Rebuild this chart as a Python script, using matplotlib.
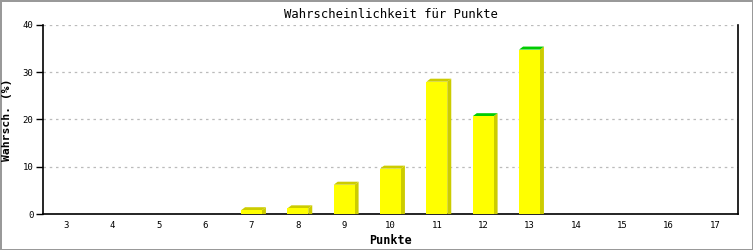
import numpy as np
import matplotlib
matplotlib.use("Agg")
import matplotlib.pyplot as plt
from matplotlib.patches import Polygon

# data
punkte = [3, 4, 5, 6, 7, 8, 9, 10, 11, 12, 13, 14, 15, 16, 17]
wahrsch = [0, 0, 0, 0, 0.8, 1.2, 6.2, 9.6, 28.0, 20.7, 34.8, 0, 0, 0, 0]
top_green = [12, 13]
y_ticks = [0, 10, 20, 30, 40]

W, H = 753, 250
fig = plt.figure(figsize=(W / 100, H / 100), dpi=100)
fig.patch.set_facecolor("white")
fig.patch.set_edgecolor("#999999")
fig.patch.set_linewidth(2)

ax = fig.add_axes([43 / W, 1 - 214 / H, (738 - 43) / W, (214 - 25) / H])
ax.set_xlim(2.5, 17.5)
ax.set_ylim(0, 40)

mono = "DejaVu Sans Mono"
bar_w = 0.45
# depth of the 3d effect in pixels -> data units
px_x = (17.5 - 2.5) / (738 - 43)
px_y = 40 / (214 - 25)
dx, dy = 4 * px_x, 3 * px_y

yellow = "#ffff00"
side = "#cccc00"
green = "#00cc00"

for p, v in zip(punkte, wahrsch):
    if v <= 0:
        continue
    x0 = p - bar_w / 2
    x1 = p + bar_w / 2
    # right side face
    ax.add_patch(Polygon([(x1, 0), (x1 + dx, 0), (x1 + dx, v + dy), (x1, v)],
                         closed=True, facecolor=side, edgecolor="none", zorder=3))
    # top face
    ax.add_patch(Polygon([(x0, v), (x1, v), (x1 + dx, v + dy), (x0 + dx, v + dy)],
                         closed=True, facecolor=green if p in top_green else side,
                         edgecolor="none", zorder=3))
    ax.bar(p, v, width=bar_w, color=yellow, zorder=4, linewidth=0)

ax.set_yticks(y_ticks)
ax.set_xticks(punkte)
ax.set_xticklabels([str(p) for p in punkte], fontsize=6.5, family=mono)
ax.set_yticklabels([str(t) for t in y_ticks], fontsize=6.5, family=mono)
ax.tick_params(axis="x", length=0, pad=5)
ax.tick_params(axis="y", length=5, width=1, pad=2)

ax.grid(axis="y", linestyle=(0, (2, 3)), color="#bbbbbb", linewidth=0.9, zorder=0)
ax.set_axisbelow(True)

ax.spines["top"].set_visible(False)
for s in ["left", "right", "bottom"]:
    ax.spines[s].set_linewidth(1.2)
    ax.spines[s].set_color("black")

ax.set_title("Wahrscheinlichkeit für Punkte", family=mono, fontsize=8.8, pad=5)
ax.set_xlabel("Punkte", family=mono, fontsize=8.5, fontweight="bold", labelpad=3)
ax.set_ylabel("Wahrsch. (%)", family=mono, fontsize=8.2, fontweight="bold")
ax.yaxis.set_label_coords(-0.045, 0.5)

fig.savefig("out.png", dpi=100)
